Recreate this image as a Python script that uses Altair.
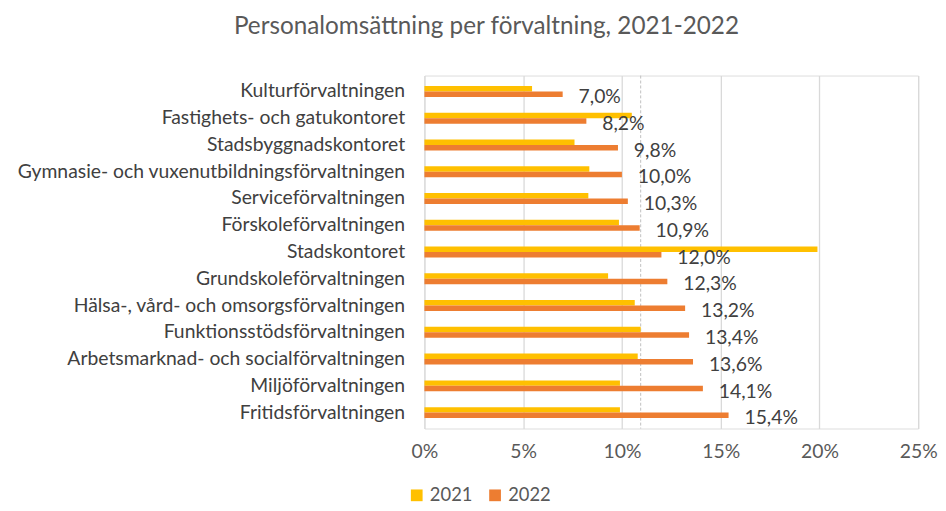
import altair as alt
import pandas as pd

categories = [
    "Kulturförvaltningen",
    "Fastighets- och gatukontoret",
    "Stadsbyggnadskontoret",
    "Gymnasie- och vuxenutbildningsförvaltningen",
    "Serviceförvaltningen",
    "Förskoleförvaltningen",
    "Stadskontoret",
    "Grundskoleförvaltningen",
    "Hälsa-, vård- och omsorgsförvaltningen",
    "Funktionsstödsförvaltningen",
    "Arbetsmarknad- och socialförvaltningen",
    "Miljöförvaltningen",
    "Fritidsförvaltningen",
]
values_2021 = [5.45, 10.5, 7.6, 8.35, 8.3, 9.85, 19.9, 9.3, 10.65, 10.95, 10.8, 9.9, 9.9]
values_2022 = [7.0, 8.2, 9.8, 10.0, 10.3, 10.9, 12.0, 12.3, 13.2, 13.4, 13.6, 14.1, 15.4]
average_line = [10.95]
x_ticks = [0, 0.05, 0.10, 0.15, 0.20, 0.25]

rows = []
for c, a, b in zip(categories, values_2021, values_2022):
    rows.append({"cat": c, "year": "2021", "v": a / 100, "label": ""})
    rows.append({"cat": c, "year": "2022", "v": b / 100,
                 "label": f"{b:.1f}%".replace(".", ",")})
df = pd.DataFrame(rows)
df_lbl = df[df["year"] == "2022"]
df_avg = pd.DataFrame({"v": [v / 100 for v in average_line]})

FONT = "Lato"
FS = 19.5
ycat = alt.Y("cat:N", sort=categories, title=None,
             scale=alt.Scale(paddingInner=0.59, paddingOuter=0.39),
             axis=alt.Axis(labelFontSize=FS, labelColor="#404040", labelFont=FONT,
                           ticks=False, domain=False, labelPadding=20,
                           minExtent=412, maxExtent=412, labelLimit=420))
xq = alt.X("v:Q", title=None,
           scale=alt.Scale(domain=[0, 0.25], nice=False),
           axis=alt.Axis(values=x_ticks, format=".0%", labelFontSize=FS,
                         labelColor="#595959", labelFont=FONT, ticks=False,
                         labelFlush=False,
                         domain=False, gridColor="#d9d9d9", gridWidth=1.3,
                         labelPadding=14))

bars = alt.Chart(df).mark_bar(size=5.5).encode(
    y=ycat,
    x=xq,
    yOffset=alt.YOffset("year:N", sort=["2021", "2022"],
                        scale=alt.Scale(paddingInner=0, paddingOuter=0)),
    color=alt.Color("year:N",
                    scale=alt.Scale(domain=["2021", "2022"], range=["#FFC000", "#ED7D31"]),
                    legend=alt.Legend(title=None, orient="none", direction="horizontal",
                                      legendX=-17, legendY=414,
                                      symbolType="square", symbolSize=140,
                                      symbolStrokeWidth=0, labelFontSize=18.5,
                                      labelColor="#595959", labelFont=FONT,
                                      columnPadding=13, labelOffset=4)),
)

labels = alt.Chart(df_lbl).mark_text(align="left", baseline="middle", dx=16, dy=3,
                                     fontSize=FS, color="#404040", font=FONT).encode(
    y=alt.Y("cat:N", sort=categories),
    x="v:Q",
    yOffset=alt.YOffset("year:N", sort=["2021", "2022"]),
    text="label:N",
)

avg = alt.Chart(df_avg).mark_rule(color="#bfbfbf", strokeDash=[3, 2], strokeWidth=1).encode(
    x="v:Q",
)

chart = alt.layer(avg, bars, labels).resolve_scale(yOffset="shared").properties(
    width=498, height=356,
    padding={"left": 8, "top": 4, "right": 0, "bottom": 0},
    title=alt.TitleParams("Personalomsättning per förvaltning, 2021-2022",
                          fontSize=24.5, font=FONT, fontWeight="normal",
                          color="#595959", anchor="middle", frame="bounds",
                          offset=36, dx=10),
).configure_view(stroke=None).configure(background="white")

chart.save("out.html", embed_options={"renderer": "svg", "actions": False})
